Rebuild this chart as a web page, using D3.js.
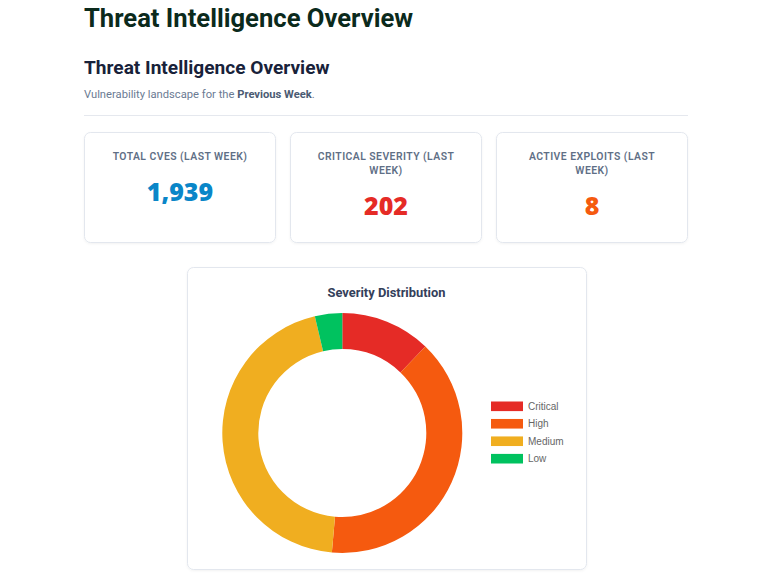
<!DOCTYPE html>
<html>
<head>
<meta charset="utf-8">
<script src="https://cdn.jsdelivr.net/npm/d3@7"></script>
<style>
  html, body { margin: 0; padding: 0; background: #fff; overflow: hidden; }
  svg { display: block; }
  .h1 { font-family: Roboto, sans-serif; font-weight: 700; font-size: 25.6px; fill: #0b2a1c; }
  .h2 { font-family: Roboto, sans-serif; font-weight: 700; font-size: 19.1px; fill: #18223a; }
  .sub { font-family: Roboto, sans-serif; font-size: 11.2px; fill: #6b7b93; }
  .sub .strong { font-weight: 700; fill: #4b5b73; }
  .card { fill: #fff; stroke: #e3e7ee; stroke-width: 1; }
  .kpiLabel { font-family: Roboto, sans-serif; font-weight: 600; font-size: 10.4px; fill: #5f6f86; letter-spacing: 0.45px; text-anchor: middle; }
  .kpiValue { font-family: "Open Sans", sans-serif; font-weight: 800; font-size: 25px; text-anchor: middle; }
  .chartTitle { font-family: Roboto, sans-serif; font-weight: 700; font-size: 12.9px; fill: #34405a; text-anchor: middle; }
  .legendText { font-family: "Liberation Sans", Arial, sans-serif; font-size: 10px; fill: #666; }
</style>
</head>
<body>
<div id="page"></div>
<script>
//------------------------------------------ Data ------------------------------------------

var kpiLabels = ["TOTAL CVES (LAST WEEK)", "CRITICAL SEVERITY (LAST WEEK)", "ACTIVE EXPLOITS (LAST WEEK)"];
var kpiValues = [1939, 202, 8];

var severityLabels = ["Critical", "High", "Medium", "Low"];
var severityCounts = [202, 651, 746, 61];

//------------------------------------------ Styles ------------------------------------------

var kpiColors = ["#0a86c8", "#e52b26", "#f55a0f"];
var severityColors = ["#e52b26", "#f55a0f", "#f0ae20", "#00c25f"];

var width = 768, height = 581;

var svg = d3.select("#page").append("svg")
	.attr("width", width)
	.attr("height", height);

var defs = svg.append("defs");
var shadow = defs.append("filter").attr("id", "cardShadow")
	.attr("x", "-5%").attr("y", "-5%").attr("width", "110%").attr("height", "115%");
shadow.append("feDropShadow")
	.attr("dx", 0).attr("dy", 1).attr("stdDeviation", 1)
	.attr("flood-color", "#000").attr("flood-opacity", 0.05);

//------------------------------------------ Headings ------------------------------------------

svg.append("text").attr("class", "h1")
	.attr("x", 84).attr("y", 27)
	.text("Threat Intelligence Overview");

svg.append("text").attr("class", "h2")
	.attr("x", 84).attr("y", 73.5)
	.text("Threat Intelligence Overview");

var sub = svg.append("text").attr("class", "sub")
	.attr("x", 84).attr("y", 97.5);
sub.append("tspan").text("Vulnerability landscape for the ");
sub.append("tspan").attr("class", "strong").text("Previous Week");
sub.append("tspan").text(".");

svg.append("line")
	.attr("x1", 84).attr("x2", 688)
	.attr("y1", 115.5).attr("y2", 115.5)
	.style("stroke", "#e5e8ee");

//------------------------------------------ KPI cards ------------------------------------------

var cardX = d3.scaleBand()
	.domain(d3.range(kpiLabels.length))
	.range([84, 688])
	.paddingInner(14 / 206);

var cards = svg.selectAll(".kpi")
	.data(kpiLabels)
	.enter().append("g")
	.attr("class", "kpi")
	.attr("transform", function(d, i) { return "translate(" + cardX(i) + ",132)"; });

cards.append("rect")
	.attr("class", "card")
	.attr("x", 0.5).attr("y", 0.5)
	.attr("rx", 6)
	.attr("width", cardX.bandwidth() - 1)
	.attr("height", 110)
	.attr("filter", "url(#cardShadow)");

//Wrap the labels inside the card width
cards.each(function(d, i) {
	var g = d3.select(this);
	var cx = cardX.bandwidth() / 2;
	var text = g.append("text").attr("class", "kpiLabel")
		.attr("x", cx).attr("y", 27.5);
	var words = d.split(" "), line = [], lineNo = 0;
	var tspan = text.append("tspan").attr("x", cx).attr("y", 27.5);
	words.forEach(function(w) {
		line.push(w);
		tspan.text(line.join(" "));
		if (tspan.node().getComputedTextLength() > 155 && line.length > 1) {
			line.pop();
			tspan.text(line.join(" "));
			line = [w];
			lineNo++;
			tspan = text.append("tspan").attr("x", cx).attr("y", 27.5 + lineNo * 14).text(w);
		}
	});
	g.append("text").attr("class", "kpiValue")
		.attr("x", cx)
		.attr("y", 27.5 + lineNo * 14 + 41)
		.style("fill", kpiColors[i])
		.text(d3.format(",")(kpiValues[i]));
});

//------------------------------------------ Severity chart ------------------------------------------

var chartCard = svg.append("g").attr("transform", "translate(187,267)");

chartCard.append("rect")
	.attr("class", "card")
	.attr("x", 0.5).attr("y", 0.5)
	.attr("rx", 6)
	.attr("width", 399).attr("height", 302)
	.attr("filter", "url(#cardShadow)");

chartCard.append("text").attr("class", "chartTitle")
	.attr("x", 199.5).attr("y", 29.5)
	.text("Severity Distribution");

var outerRadius = 120,
	innerRadius = outerRadius * 0.7;

var pie = d3.pie().sort(null).value(function(d) { return d; });
var arc = d3.arc().innerRadius(innerRadius).outerRadius(outerRadius);

var donut = chartCard.append("g")
	.attr("transform", "translate(" + (342.3 - 187) + "," + (433 - 267) + ")");

donut.selectAll(".slice")
	.data(pie(severityCounts))
	.enter().append("path")
	.attr("class", "slice")
	.attr("d", arc)
	.style("fill", function(d, i) { return severityColors[i]; });

//Legend
var legendY = d3.scalePoint()
	.domain(severityLabels)
	.range([406.3 - 267, 458.7 - 267]);

var legend = chartCard.selectAll(".legendItem")
	.data(severityLabels)
	.enter().append("g")
	.attr("class", "legendItem")
	.attr("transform", function(d) { return "translate(" + (491 - 187) + "," + legendY(d) + ")"; });

legend.append("rect")
	.attr("x", 0).attr("y", -4.8)
	.attr("width", 32).attr("height", 9.6)
	.style("fill", function(d, i) { return severityColors[i]; });

legend.append("text").attr("class", "legendText")
	.attr("x", 37).attr("y", 3.5)
	.text(function(d) { return d; });
</script>
</body>
</html>
